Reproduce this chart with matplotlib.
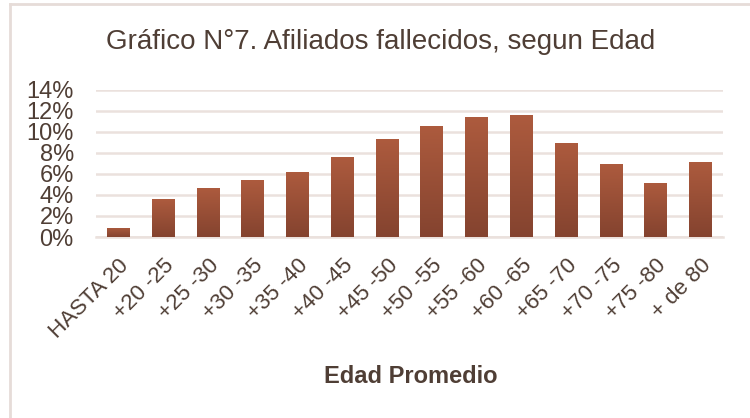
import numpy as np
import matplotlib
matplotlib.use("Agg")
import matplotlib.pyplot as plt
from matplotlib.colors import LinearSegmentedColormap
from matplotlib.lines import Line2D

categorias = ["HASTA 20", "+20 -25", "+25 -30", "+30 -35", "+35 -40", "+40 -45",
              "+45 -50", "+50 -55", "+55 -60", "+60 -65", "+65 -70", "+70 -75",
              "+75 -80", "+ de 80"]
porcentajes = [0.9, 3.6, 4.7, 5.4, 6.2, 7.6, 9.3, 10.6, 11.4, 11.6, 8.95, 6.95, 5.15, 7.15]
yticks = [0, 2, 4, 6, 8, 10, 12, 14]

plt.rcParams['font.family'] = ['Liberation Sans', 'DejaVu Sans']
txt = '#4f3e35'
grid_c = '#ebe1dd'

fig = plt.figure(figsize=(7.5, 4.18), dpi=100)
ax = fig.add_axes([0.128, 0.433, 0.836, 0.352])

x = np.arange(len(categorias))
bars = ax.bar(x, porcentajes, width=0.51, color='#9a4f37', zorder=2)

# degradado vertical en cada barra
cmap = LinearSegmentedColormap.from_list('g', ['#84432f', '#ad5b3e'])
grad = np.linspace(0, 1, 256).reshape(-1, 1)
for b in bars:
    x0, w, h = b.get_x(), b.get_width(), b.get_height()
    im = ax.imshow(grad, cmap=cmap, extent=[x0, x0 + w, 0, h], origin='lower',
                   aspect='auto', zorder=3)
    im.set_clip_path(b)

ax.set_xlim(-0.5, len(categorias) - 0.5)
ax.set_ylim(0, 14)
ax.set_yticks(yticks)
ax.set_yticklabels([f"{v}%" for v in yticks], fontsize=17, color=txt)
ax.yaxis.grid(True, color=grid_c, linewidth=1.8, zorder=0)
ax.set_axisbelow(True)
for s in ['top', 'right', 'left']:
    ax.spines[s].set_visible(False)
ax.spines['bottom'].set_color(grid_c)
ax.spines['bottom'].set_linewidth(1.8)
ax.tick_params(axis='both', length=0)
ax.tick_params(axis='y', pad=16)
ax.set_xticks(x)
ax.set_xticklabels(categorias, rotation=45, ha='right', rotation_mode='anchor',
                   fontsize=16, color=txt)
ax.tick_params(axis='x', pad=13)

fig.text(0.508, 0.9, "Gráfico N°7. Afiliados fallecidos, segun Edad",
         ha='center', va='center', fontsize=20, color=txt)
fig.text(0.548, 0.1, "Edad Promedio", ha='center', va='center',
         fontsize=17, fontweight='bold', color=txt)

# borde del recuadro
fig.add_artist(Line2D([10 / 750, 1], [1 - 4 / 418, 1 - 4 / 418],
                      transform=fig.transFigure, color='#e6dcd8', lw=2))
fig.add_artist(Line2D([10 / 750, 10 / 750], [0, 1 - 4 / 418],
                      transform=fig.transFigure, color='#e6dcd8', lw=2))

fig.savefig("out.png", dpi=100)
